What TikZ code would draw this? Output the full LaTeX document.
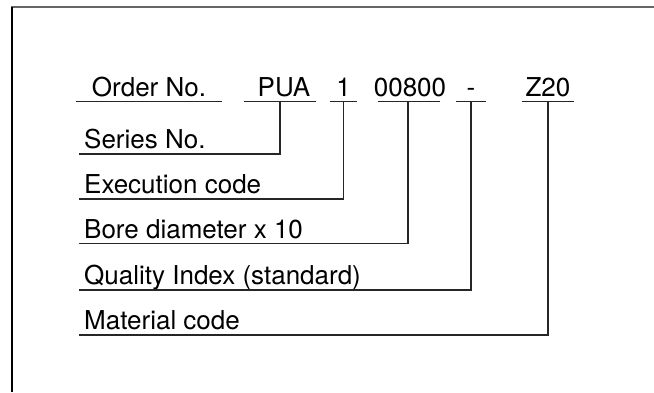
\documentclass[tikz,border=0pt]{standalone}
\usepackage{fontspec}
\setmainfont{TeX Gyre Heros}
\tikzset{
  codebox/.style={anchor=south, inner xsep=0pt, inner ysep=5pt, text depth=0pt},
  lblbox/.style={anchor=south west, inner xsep=5pt, inner ysep=5pt, text depth=0pt},
  uline/.style={line width=1.5pt, draw=black!85}
}
\begin{document}
\begin{tikzpicture}[x=1pt,y=-1pt,font=\fontsize{26}{31}\selectfont]
  \useasboundingbox (0,0) rectangle (654,392);
  % frame
  \draw[line width=2pt, gray!80!black] (11,7) -- (654,7);
  \draw[line width=2pt, black] (11.5,7) -- (11.5,392);

  % order code
  \node[codebox, minimum width=146pt] (order) at (149,101.7) {Order No.};
  \node[codebox, minimum width=72pt] (pua) at (284,101.7) {PUA};
  \node[codebox, minimum width=27pt] (one) at (343.5,101.7) {1};
  \node[codebox, minimum width=63pt] (bore) at (410,101.7) {00800};
  \node[codebox, minimum width=30pt] (dash) at (471,101.7) {-};
  \node[codebox, minimum width=52pt] (z20) at (548,101.7) {Z20};

  \draw[uline] (order.south west) -- (order.south east);
  \draw[uline, shorten <=-4pt, shorten >=4pt] (pua.south west) -- (pua.south east);
  \draw[uline] (one.south west) -- (one.south east);
  \draw[uline, shorten <=4pt, shorten >=6pt] (bore.south west) -- (bore.south east);
  \draw[uline] (dash.south west) -- (dash.south east);
  \draw[uline] (z20.south west) -- (z20.south east);

  % meaning of each field
  \node[lblbox] (series) at (79,154) {Series No.};
  \node[lblbox] (exec) at (79,199) {Execution code};
  \node[lblbox] (borelbl) at (79,243.5) {Bore diameter x 10};
  \node[lblbox] (quality) at (79,290) {Quality Index (standard)};
  \node[lblbox] (material) at (79,335) {Material code};

  \draw[uline] ([xshift=-4pt]pua.south) |- (series.south west);
  \draw[uline] (one.south) |- (exec.south west);
  \draw[uline] ([xshift=-2pt]bore.south) |- (borelbl.south west);
  \draw[uline] (dash.south) |- (quality.south west);
  \draw[uline] (z20.south) |- (material.south west);
\end{tikzpicture}
\end{document}
